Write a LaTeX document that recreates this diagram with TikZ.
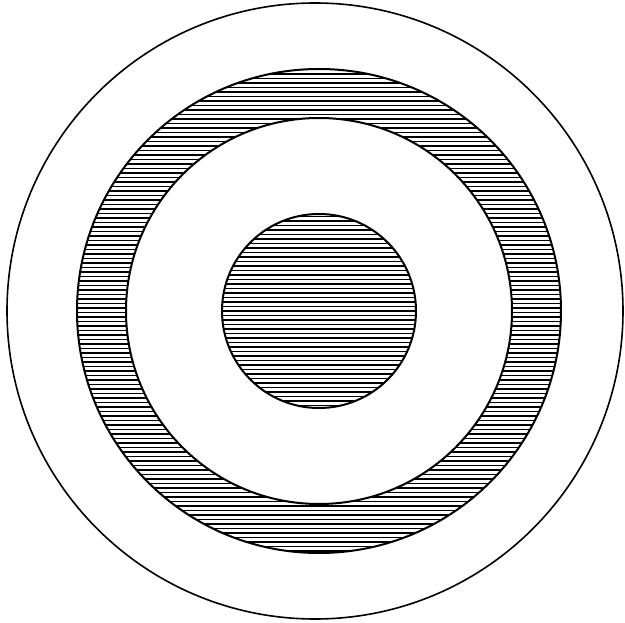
\documentclass[tikz,border=0pt]{standalone}
\begin{document}
\begin{tikzpicture}[x=1pt,y=-1pt,
    rim/.style={line width=2pt},
    hatch/.style={line width=1.6pt}]
    \useasboundingbox (0,0) rectangle (625,623);
    \coordinate (c) at (319,311);
    \coordinate (o) at (315,311);

    \begin{scope}[even odd rule]
        \clip (c) circle (242pt) (c) circle (193pt);
        \foreach \y in {69.5,74,...,556} \draw[hatch] (60,\y) -- (580,\y);
    \end{scope}
    \begin{scope}
        \clip (c) circle (97pt);
        \foreach \y in {216.5,221,...,410} \draw[hatch] (210,\y) -- (430,\y);
    \end{scope}

    \draw[line width=1.6pt] (o) circle (308pt);
    \draw[rim] (c) circle (242pt);
    \draw[rim] (c) circle (193pt);
    \draw[rim] (c) circle (97pt);
\end{tikzpicture}
\end{document}
